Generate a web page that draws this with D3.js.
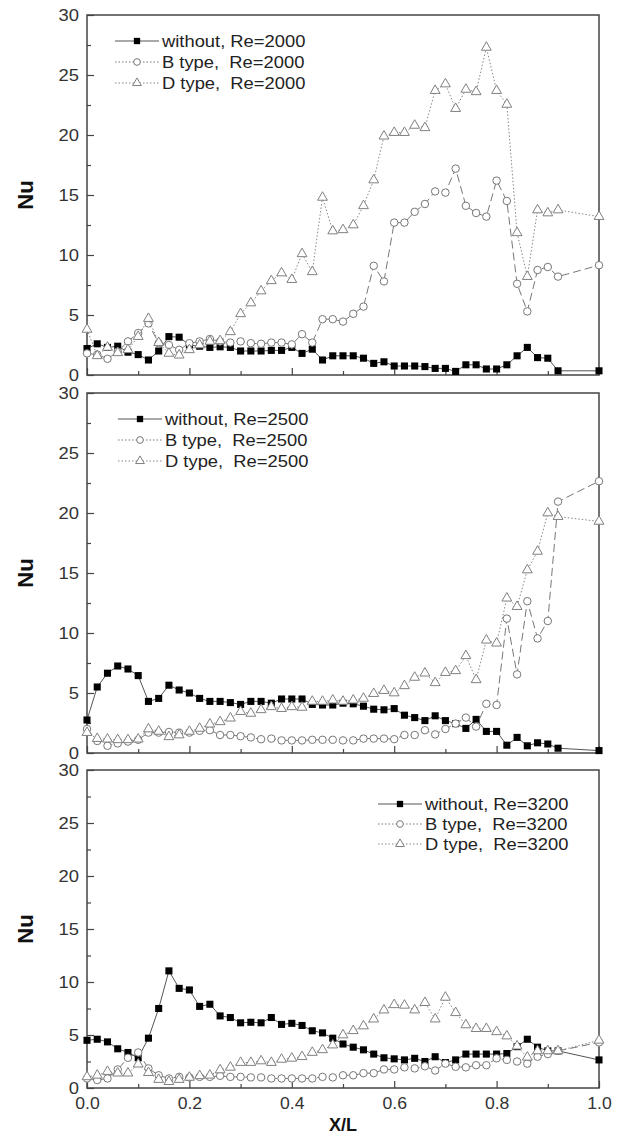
<!DOCTYPE html>
<html>
<head>
<meta charset="utf-8">
<title>Nu vs X/L</title>
<script src="https://cdn.jsdelivr.net/npm/d3@7"></script>
<style>
  body { margin: 0; background: #fff; }
  text { font-family: "Liberation Sans", Arial, sans-serif; }
  .legend text { white-space: pre; }
</style>
</head>
<body>
<svg id="chart"></svg>
<script>
// x positions (X/L)
var xPos = [0, 0.02, 0.04, 0.06, 0.08, 0.10, 0.12, 0.14, 0.16, 0.18,
  0.20, 0.22, 0.24, 0.26, 0.28, 0.30, 0.32, 0.34, 0.36, 0.38,
  0.40, 0.42, 0.44, 0.46, 0.48, 0.50, 0.52, 0.54, 0.56, 0.58,
  0.60, 0.62, 0.64, 0.66, 0.68, 0.70, 0.72, 0.74, 0.76, 0.78,
  0.80, 0.82, 0.84, 0.86, 0.88, 0.90, 0.92, 1.00];

// Re=2000
var p1Without = [2.2, 2.6, 2.3, 2.4, 1.9, 1.7, 1.25, 2.0, 3.2, 3.15,
  2.5, 2.4, 2.3, 2.35, 2.3, 2.0, 2.0, 2.0, 2.05, 2.05,
  2.3, 1.8, 2.15, 1.25, 1.6, 1.6, 1.6, 1.4, 0.97, 1.1,
  0.75, 0.75, 0.75, 0.7, 0.55, 0.55, 0.3, 0.85, 0.85, 0.5,
  0.5, 0.85, 1.6, 2.3, 1.45, 1.4, 0.35, 0.35];
var p1B = [1.8, 1.7, 1.35, 1.95, 2.8, 3.5, 4.3, 2.65, 2.5, 2.1,
  2.65, 2.8, 3.0, 2.8, 2.7, 2.8, 2.65, 2.6, 2.7, 2.7,
  2.55, 3.4, 2.7, 4.65, 4.65, 4.45, 5.1, 5.7, 9.1, 7.8,
  12.7, 12.7, 13.6, 14.25, 15.3, 15.2, 17.2, 14.1, 13.5, 13.2,
  16.2, 14.5, 7.6, 5.3, 8.75, 9.0, 8.2, 9.15];
var p1D = [3.8, 1.6, 2.3, 1.85, 2.1, 3.2, 4.7, 2.7, 1.8, 1.65,
  2.1, 2.5, 2.8, 2.85, 3.6, 5.1, 6.0, 7.0, 7.85, 8.5,
  7.95, 10.1, 8.6, 14.8, 12.0, 12.1, 12.5, 14.1, 16.25, 19.9,
  20.2, 20.2, 20.8, 20.6, 23.7, 24.25, 22.2, 23.8, 23.6, 27.3,
  23.7, 22.55, 11.85, 8.2, 13.75, 13.5, 13.75, 13.2];

// Re=2500
var p2Without = [2.75, 5.5, 6.65, 7.25, 7.0, 6.45, 4.3, 4.55, 5.65, 5.25,
  5.0, 4.55, 4.3, 4.3, 4.2, 4.05, 4.3, 4.3, 4.15, 4.5,
  4.5, 4.5, 4.05, 4.0, 4.0, 4.15, 4.1, 3.9, 3.65, 3.6,
  3.7, 3.15, 2.95, 2.7, 3.1, 2.7, 2.45, 2.05, 2.8, 1.8,
  1.8, 0.65, 1.3, 0.6, 0.85, 0.75, 0.4, 0.2];
var p2B = [2.0, 1.0, 0.6, 0.8, 0.95, 1.1, 1.7, 1.7, 1.75, 1.7,
  1.7, 1.85, 1.9, 1.5, 1.5, 1.4, 1.3, 1.15, 1.2, 1.05,
  1.05, 1.05, 1.1, 1.1, 1.1, 1.05, 1.05, 1.2, 1.2, 1.2,
  1.15, 1.5, 1.5, 1.9, 1.55, 2.0, 2.45, 2.95, 2.2, 4.1,
  4.0, 11.2, 6.55, 12.65, 9.55, 11.0, 20.95, 22.65];
var p2D = [1.7, 1.2, 1.15, 1.1, 1.1, 1.15, 2.0, 1.8, 1.35, 1.5,
  1.8, 2.05, 2.4, 2.6, 2.9, 3.45, 3.3, 3.6, 3.85, 3.7,
  3.85, 3.8, 4.3, 4.3, 4.4, 4.3, 4.4, 4.55, 4.95, 5.2,
  5.0, 5.6, 6.3, 6.65, 5.85, 6.7, 6.85, 8.1, 6.1, 9.4,
  9.15, 12.9, 12.2, 15.25, 16.8, 20.0, 19.7, 19.3];

// Re=3200
var p3Without = [4.5, 4.6, 4.35, 3.7, 3.35, 2.85, 4.7, 7.5, 11.05, 9.4,
  9.25, 7.7, 7.9, 6.8, 6.65, 6.15, 6.2, 6.15, 6.65, 6.0,
  6.1, 5.9, 5.4, 5.2, 4.7, 4.15, 3.85, 3.6, 3.2, 2.85,
  2.75, 2.65, 2.8, 2.5, 2.95, 2.4, 2.65, 3.2, 3.2, 3.2,
  3.2, 3.25, 3.9, 4.6, 3.85, 3.5, 3.5, 2.65];
var p3B = [0.9, 0.75, 0.9, 1.75, 2.85, 3.35, 1.85, 1.2, 0.9, 1.05,
  1.0, 1.05, 1.05, 1.15, 1.05, 1.05, 1.0, 1.0, 0.9, 0.9,
  0.9, 0.9, 0.9, 1.05, 1.0, 1.2, 1.2, 1.4, 1.4, 1.75,
  1.75, 1.95, 1.85, 2.05, 1.65, 2.3, 2.0, 1.95, 2.15, 2.15,
  2.8, 2.65, 2.5, 2.3, 2.95, 3.2, 3.5, 4.3];
var p3D = [1.05, 1.2, 1.55, 1.4, 1.4, 2.25, 1.45, 0.8, 0.6, 0.8,
  1.0, 1.15, 1.2, 1.7, 1.95, 2.4, 2.4, 2.55, 2.4, 2.7,
  2.8, 2.95, 3.35, 3.6, 4.05, 5.0, 5.4, 5.85, 6.5, 7.35,
  7.85, 7.8, 7.35, 8.05, 6.5, 8.55, 7.1, 5.95, 5.6, 5.6,
  5.3, 4.9, 3.95, 2.9, 3.5, 3.5, 3.5, 4.5];

var legend1 = ['without, Re=2000', 'B type,  Re=2000', 'D type,  Re=2000'];
var legend2 = ['without, Re=2500', 'B type,  Re=2500', 'D type,  Re=2500'];
var legend3 = ['without, Re=3200', 'B type,  Re=3200', 'D type,  Re=3200'];

var yTicks = [0, 5, 10, 15, 20, 25, 30];
var xTicks = [0, 0.2, 0.4, 0.6, 0.8, 1.0];

var W = 624, H = 1140;
var left = 87, right = 599;

var panels = [
  { top: 15, bottom: 375, series: [p1Without, p1B, p1D], legend: legend1, lx: 115, ly: 41, lstep: 21, xlab: false },
  { top: 393, bottom: 753, series: [p2Without, p2B, p2D], legend: legend2, lx: 118, ly: 419, lstep: 21, xlab: false },
  { top: 770, bottom: 1088, series: [p3Without, p3B, p3D], legend: legend3, lx: 378, ly: 804, lstep: 20, xlab: true }
];

// series styles: without / B type / D type
var styles = [
  { line: '#555', dash: null, sym: d3.symbolSquare, size: 50, fill: '#000', stroke: 'none' },
  { line: '#777', dash: '8,4', sym: d3.symbolCircle, size: 44, fill: '#fff', stroke: '#777' },
  { line: '#888', dash: '1.5,2', sym: d3.symbolTriangle, size: 42, fill: '#fff', stroke: '#808080' }
];
var legendDash = [null, '1.5,2', '1.5,2'];

var svg = d3.select('#chart')
  .attr('width', W)
  .attr('height', H);

var x = d3.scaleLinear().domain([0, 1]).range([left, right]);

panels.forEach(function(p) {
  var y = d3.scaleLinear().domain([0, 30]).range([p.bottom, p.top]);
  var g = svg.append('g');

  // minor ticks
  g.append('g')
    .attr('transform', 'translate(' + left + ',0)')
    .call(d3.axisLeft(y).tickValues([2.5, 7.5, 12.5, 17.5, 22.5, 27.5]).tickSize(-4).tickFormat(''))
    .call(s => s.select('.domain').remove());
  g.append('g')
    .attr('transform', 'translate(0,' + p.bottom + ')')
    .call(d3.axisBottom(x).tickValues([0.1, 0.3, 0.5, 0.7, 0.9]).tickSize(-4).tickFormat(''))
    .call(s => s.select('.domain').remove());

  // major ticks + labels
  var ya = g.append('g')
    .attr('transform', 'translate(' + left + ',0)')
    .call(d3.axisLeft(y).tickValues(yTicks).tickSize(-7).tickPadding(7).tickFormat(d3.format('d')));
  ya.select('.domain').remove();
  ya.selectAll('text')
    .attr('font-size', 16)
    .attr('fill', '#333')
    .attr('transform', 'scale(1.15,1)');

  var xa = g.append('g')
    .attr('transform', 'translate(0,' + p.bottom + ')')
    .call(d3.axisBottom(x).tickValues(xTicks).tickSize(-7).tickPadding(10)
      .tickFormat(p.xlab ? d3.format('.1f') : ''));
  xa.select('.domain').remove();
  xa.selectAll('text')
    .attr('font-size', 16)
    .attr('fill', '#333')
    .attr('transform', 'scale(1.1,1)');

  g.selectAll('.tick line').attr('stroke', '#444').attr('stroke-width', 1.2);

  // frame
  g.append('rect')
    .attr('x', left)
    .attr('y', p.top)
    .attr('width', right - left)
    .attr('height', p.bottom - p.top)
    .attr('fill', 'none')
    .attr('stroke', '#444')
    .attr('stroke-width', 1.5);

  // Nu label
  g.append('text')
    .attr('transform', 'translate(33,' + (p.top + p.bottom) / 2 + ') rotate(-90)')
    .attr('text-anchor', 'middle')
    .attr('font-size', 22)
    .attr('font-weight', 'bold')
    .attr('fill', '#111')
    .text('Nu');

  // series
  p.series.forEach(function(vals, k) {
    var st = styles[k];
    var pts = vals.map((v, i) => [xPos[i], v]);
    var line = d3.line().x(d => x(d[0])).y(d => y(d[1]));
    g.append('path')
      .datum(pts)
      .attr('d', line)
      .attr('fill', 'none')
      .attr('stroke', st.line)
      .attr('stroke-width', 1)
      .attr('stroke-dasharray', st.dash);
    g.selectAll('.m' + k)
      .data(pts)
      .enter()
      .append('path')
      .attr('class', 'm' + k)
      .attr('transform', d => 'translate(' + x(d[0]) + ',' + y(d[1]) + ')')
      .attr('d', d3.symbol().type(st.sym).size(st.size))
      .attr('fill', st.fill)
      .attr('stroke', st.stroke)
      .attr('stroke-width', 1);
  });

  // legend
  var lg = g.append('g').attr('class', 'legend');
  p.legend.forEach(function(label, k) {
    var st = styles[k];
    var yy = p.ly + k * p.lstep;
    lg.append('line')
      .attr('x1', p.lx).attr('x2', p.lx + 44)
      .attr('y1', yy).attr('y2', yy)
      .attr('stroke', st.line)
      .attr('stroke-width', 1)
      .attr('stroke-dasharray', legendDash[k]);
    lg.append('path')
      .attr('transform', 'translate(' + (p.lx + 22) + ',' + yy + ')')
      .attr('d', d3.symbol().type(st.sym).size(st.size * 0.8))
      .attr('fill', st.fill)
      .attr('stroke', st.stroke);
    lg.append('text')
      .attr('transform', 'translate(' + (p.lx + 47) + ',' + (yy + 6) + ') scale(1.08,1)')
      .attr('font-size', 17)
      .attr('fill', '#222')
      .text(label);
  });
});

// x axis title
svg.append('text')
  .attr('x', (left + right) / 2)
  .attr('y', 1131)
  .attr('text-anchor', 'middle')
  .attr('font-size', 18)
  .attr('font-weight', 'bold')
  .attr('fill', '#111')
  .text('X/L');
</script>
</body>
</html>
